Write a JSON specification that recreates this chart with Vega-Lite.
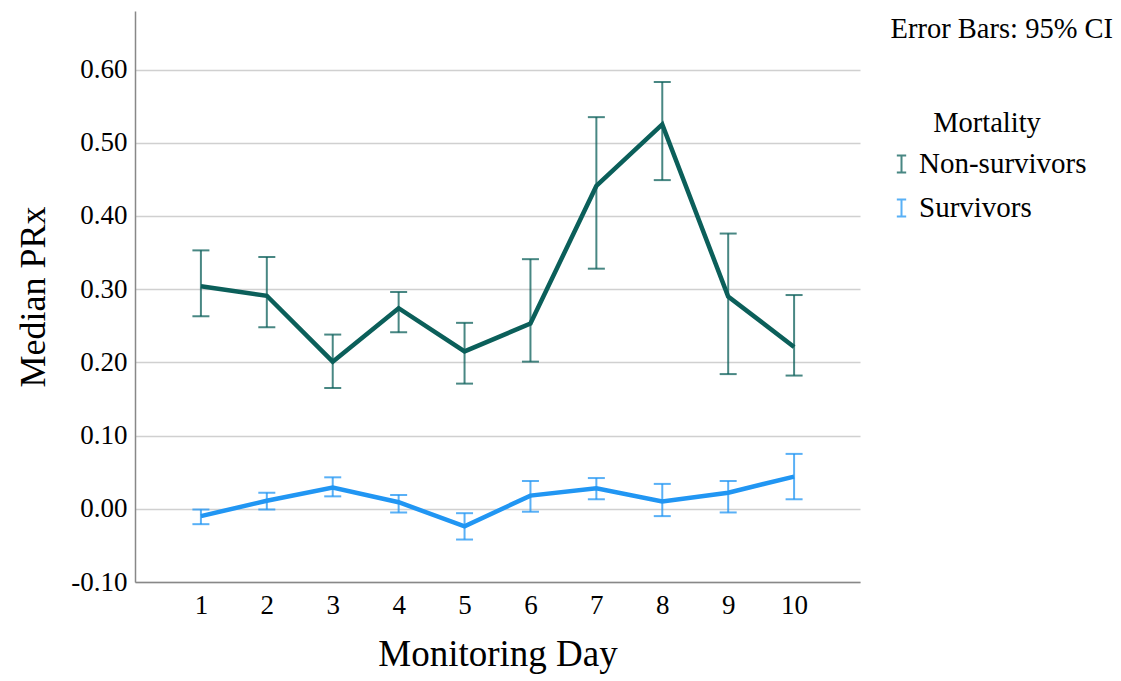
{
  "$schema": "https://vega.github.io/schema/vega-lite/v6.json",
  "width": 725,
  "height": 571,
  "autosize": {"type": "none"},
  "padding": {"left": 135, "top": 11, "right": 261, "bottom": 99},
  "background": "white",
  "title": {
    "text": "Error Bars: 95% CI",
    "anchor": "end",
    "frame": "group",
    "font": "Liberation Serif",
    "fontSize": 28.5,
    "fontWeight": "normal",
    "color": "#000000",
    "dx": 253,
    "dy": 65,
    "baseline": "bottom"
  },
  "config": {
    "view": {"stroke": null},
    "font": "Liberation Serif"
  },
  "data": {
    "values": [
      {"day": 1, "group": "Non-survivors", "prx": 0.304, "lo": 0.263, "hi": 0.353},
      {"day": 2, "group": "Non-survivors", "prx": 0.291, "lo": 0.248, "hi": 0.344},
      {"day": 3, "group": "Non-survivors", "prx": 0.201, "lo": 0.165, "hi": 0.238},
      {"day": 4, "group": "Non-survivors", "prx": 0.274, "lo": 0.241, "hi": 0.296},
      {"day": 5, "group": "Non-survivors", "prx": 0.215, "lo": 0.171, "hi": 0.254},
      {"day": 6, "group": "Non-survivors", "prx": 0.253, "lo": 0.201, "hi": 0.341},
      {"day": 7, "group": "Non-survivors", "prx": 0.441, "lo": 0.328, "hi": 0.535},
      {"day": 8, "group": "Non-survivors", "prx": 0.525, "lo": 0.449, "hi": 0.583},
      {"day": 9, "group": "Non-survivors", "prx": 0.290, "lo": 0.184, "hi": 0.376},
      {"day": 10, "group": "Non-survivors", "prx": 0.221, "lo": 0.182, "hi": 0.292},
      {"day": 1, "group": "Survivors", "prx": -0.010, "lo": -0.021, "hi": -0.001},
      {"day": 2, "group": "Survivors", "prx": 0.011, "lo": -0.001, "hi": 0.022},
      {"day": 3, "group": "Survivors", "prx": 0.029, "lo": 0.017, "hi": 0.043},
      {"day": 4, "group": "Survivors", "prx": 0.009, "lo": -0.005, "hi": 0.019},
      {"day": 5, "group": "Survivors", "prx": -0.024, "lo": -0.042, "hi": -0.006},
      {"day": 6, "group": "Survivors", "prx": 0.018, "lo": -0.004, "hi": 0.038},
      {"day": 7, "group": "Survivors", "prx": 0.028, "lo": 0.013, "hi": 0.042},
      {"day": 8, "group": "Survivors", "prx": 0.010, "lo": -0.010, "hi": 0.034},
      {"day": 9, "group": "Survivors", "prx": 0.022, "lo": -0.005, "hi": 0.038},
      {"day": 10, "group": "Survivors", "prx": 0.044, "lo": 0.013, "hi": 0.075}
    ]
  },
  "encoding": {
    "x": {
      "field": "day",
      "type": "ordinal",
      "scale": {"type": "point", "padding": 1},
      "axis": {
        "title": "Monitoring Day",
        "titleFont": "Liberation Serif",
        "titleFontSize": 37,
        "titleFontWeight": "normal",
        "titleColor": "#000000",
        "titlePadding": 18,
        "labelFont": "Liberation Serif",
        "labelFontSize": 27,
        "labelColor": "#000000",
        "labelAngle": 0,
        "labelPadding": 10,
        "ticks": false,
        "domainColor": "#888888",
        "domainWidth": 1.5,
        "grid": false
      }
    },
    "color": {
      "field": "group",
      "type": "nominal",
      "scale": {"domain": ["Non-survivors", "Survivors"], "range": ["#0b5f5a", "#2196f3"]},
      "legend": {
        "title": "Mortality",
        "orient": "none",
        "legendX": 752,
        "legendY": 98,
        "titleFont": "Liberation Serif",
        "titleFontSize": 28.5,
        "titleFontWeight": "normal",
        "titleColor": "#000000",
        "titleAnchor": "middle",
        "titlePadding": 12,
        "titleLimit": 300,
        "labelFont": "Liberation Serif",
        "labelFontSize": 29,
        "labelColor": "#000000",
        "labelOffset": 3,
        "labelLimit": 300,
        "symbolType": "M-0.55,-1H0.55M0,-1V1M-0.55,1H0.55",
        "symbolSize": 289,
        "symbolStrokeWidth": 2,
        "symbolOpacity": 0.75,
        "rowPadding": 14
      }
    }
  },
  "layer": [
    {
      "mark": {"type": "rule", "strokeWidth": 2, "opacity": 0.75},
      "encoding": {
        "y": {
          "field": "lo",
          "type": "quantitative",
          "scale": {"domain": [-0.1, 0.68], "nice": false, "zero": false},
          "axis": {
            "title": "Median PRx",
            "titleFont": "Liberation Serif",
            "titleFontSize": 36,
            "titleFontWeight": "normal",
            "titleColor": "#000000",
            "titlePadding": 18,
            "values": [-0.1, 0, 0.1, 0.2, 0.3, 0.4, 0.5, 0.6],
            "labelExpr": "replace(format(datum.value, '.2f'), '\u2212', '-')",
            "labelFont": "Liberation Serif",
            "labelFontSize": 27,
            "labelColor": "#000000",
            "labelPadding": 8,
            "ticks": false,
            "domainColor": "#888888",
            "domainWidth": 1.5,
            "grid": true,
            "gridColor": "#d0d0d0",
            "gridWidth": 1.5
          }
        },
        "y2": {"field": "hi"}
      }
    },
    {
      "mark": {"type": "tick", "size": 17, "thickness": 2, "opacity": 0.75},
      "encoding": {"y": {"field": "lo", "type": "quantitative"}}
    },
    {
      "mark": {"type": "tick", "size": 17, "thickness": 2, "opacity": 0.75},
      "encoding": {"y": {"field": "hi", "type": "quantitative"}}
    },
    {
      "mark": {"type": "line", "strokeWidth": 4.5, "strokeJoin": "miter"},
      "encoding": {
        "y": {"field": "prx", "type": "quantitative"}
      }
    }
  ]
}
